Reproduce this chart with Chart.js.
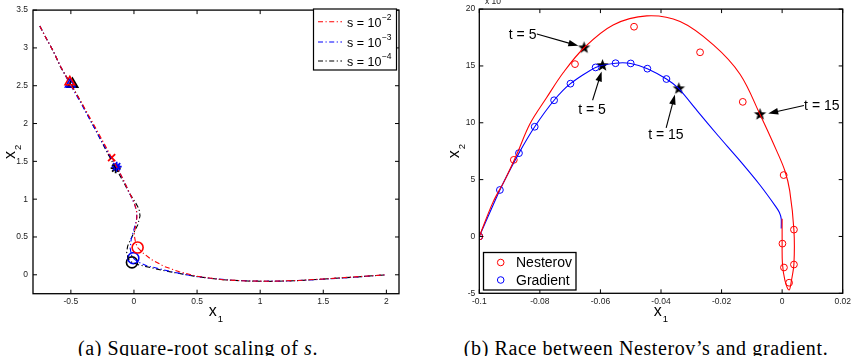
<!DOCTYPE html>
<html>
<head>
<meta charset="utf-8">
<script src="https://cdn.jsdelivr.net/npm/chart.js@4.4.0/dist/chart.umd.min.js"></script>
<style>
  body { margin: 0; background: #fff; width: 858px; height: 356px; position: relative; overflow: hidden; }
  canvas { position: absolute; top: 0; }
  #c1 { left: 0; }
  #c2 { left: 429px; }
  .cap { position: absolute; top: 338px; line-height: 20px; font-family: "Liberation Serif", serif; font-size: 20px;
         letter-spacing: 0.6px; color: #000; white-space: nowrap; transform: translateX(-50%); }
</style>
</head>
<body>
<canvas id="c1" width="429" height="330"></canvas>
<canvas id="c2" width="429" height="330"></canvas>
<div class="cap" style="left:198px">(a) Square-root scaling of <i>s</i>.</div>
<div class="cap" style="left:646px">(b) Race between Nesterov’s and gradient.</div>
<script>
// ---------- (a) square-root scaling of s ----------
const xTicksA = [-0.5, 0, 0.5, 1, 1.5, 2];
const yTicksA = [0, 0.5, 1, 1.5, 2, 2.5, 3, 3.5];
const sExponents = ['−2', '−3', '−4'];

const pathS2 = [[-0.746, 3.29], [-0.69, 3.11], [-0.64, 2.96], [-0.58, 2.75], [-0.51, 2.54], [-0.42, 2.29],
  [-0.3, 1.93], [-0.177, 1.55], [-0.1, 1.31], [-0.04, 1.1], [0.0, 0.96], [0.02, 0.86], [0.024, 0.76],
  [0.012, 0.64], [0.002, 0.53], [0.012, 0.43], [0.029, 0.36], [0.07, 0.29], [0.14, 0.2], [0.24, 0.11],
  [0.36, 0.04], [0.5, -0.02], [0.7, -0.065], [0.9, -0.082], [1.1, -0.085], [1.3, -0.075], [1.5, -0.055],
  [1.75, -0.028], [2.0, 0.0]];
const pathS3 = [[-0.746, 3.29], [-0.69, 3.11], [-0.64, 2.96], [-0.58, 2.75], [-0.51, 2.53], [-0.42, 2.27],
  [-0.3, 1.9], [-0.2, 1.6], [-0.137, 1.43], [-0.08, 1.24], [-0.03, 1.06], [0.005, 0.93], [0.022, 0.83],
  [0.02, 0.72], [0.0, 0.6], [-0.022, 0.47], [-0.03, 0.35], [-0.02, 0.26], [-0.005, 0.22], [0.03, 0.17],
  [0.1, 0.12], [0.2, 0.08], [0.3, 0.04], [0.45, -0.01], [0.6, -0.045], [0.8, -0.075], [1.0, -0.085],
  [1.2, -0.083], [1.4, -0.068], [1.6, -0.048], [1.8, -0.025], [2.0, 0.0]];
const pathS4 = [[-0.746, 3.29], [-0.69, 3.11], [-0.64, 2.96], [-0.58, 2.74], [-0.49, 2.5], [-0.4, 2.22],
  [-0.3, 1.9], [-0.2, 1.58], [-0.145, 1.41], [-0.09, 1.25], [-0.04, 1.09], [0.01, 0.96], [0.04, 0.87],
  [0.048, 0.78], [0.03, 0.66], [0.0, 0.56], [-0.025, 0.47], [-0.05, 0.38], [-0.058, 0.3], [-0.045, 0.21],
  [-0.016, 0.164], [0.04, 0.13], [0.12, 0.1], [0.22, 0.06], [0.35, 0.02], [0.5, -0.025], [0.7, -0.065],
  [0.9, -0.083], [1.1, -0.087], [1.3, -0.077], [1.5, -0.057], [1.75, -0.03], [2.0, 0.0]];
// markers: triangle, cross/star, circle
const marksS2 = [[-0.508, 2.55], [-0.177, 1.55], [0.029, 0.36]];
const marksS3 = [[-0.505, 2.52], [-0.137, 1.43], [-0.005, 0.22]];
const marksS4 = [[-0.487, 2.52], [-0.145, 1.41], [-0.016, 0.164]];

// ---------- (b) race between Nesterov and gradient ----------
const xTicksB = [-0.1, -0.08, -0.06, -0.04, -0.02, 0, 0.02];
const yTicksB = [-5, 0, 5, 10, 15, 20];
const seriesB = ['Nesterov', 'Gradient'];

const nesterovPath = [[-0.1, 0], [-0.0955, 3.0], [-0.0915, 5.0], [-0.0875, 7.3], [-0.0833, 9.9], [-0.0778, 12.2],
  [-0.0723, 14.4], [-0.0654, 16.6], [-0.0558, 18.6], [-0.0447, 19.4], [-0.0337, 18.9], [-0.0227, 16.85],
  [-0.0139, 14.27], [-0.0073, 10.73], [-0.0018, 7.53], [0.0009, 5.78], [0.0025, 4.03], [0.0039, 0.53],
  [0.0039, -2.38], [0.0031, -3.84], [0.0023, -4.71], [0.0009, -3.84], [0.0001, -2.38], [0.0, -0.34], [0.0, 1.55]];
const gradientPath = [[-0.1, 0], [-0.0932, 4.09], [-0.0869, 7.33], [-0.0817, 9.65], [-0.0753, 11.98],
  [-0.0699, 13.44], [-0.0616, 14.87], [-0.055, 15.24], [-0.05, 15.22], [-0.0445, 14.76], [-0.0382, 13.85],
  [-0.0341, 13.0], [-0.0281, 11.07], [-0.0212, 8.88], [-0.0139, 6.65], [-0.0074, 4.55], [-0.0021, 2.63],
  [-0.0009, 2.11], [-0.0003, 1.55], [-0.0003, 0.71]];
const nesterovIter = [[-0.1, 0], [-0.0886, 6.74], [-0.0684, 15.16], [-0.0489, 18.45], [-0.0271, 16.2],
  [-0.013, 11.84], [0.0005, 5.4], [0.0039, 0.6], [0.0001, -0.63], [0.0006, -2.73], [0.0039, -2.47], [0.0023, -4.07]];
const gradientIter = [[-0.1, 0], [-0.0932, 4.09], [-0.0869, 7.33], [-0.0817, 9.65], [-0.0753, 11.98],
  [-0.0699, 13.44], [-0.0616, 14.87], [-0.055, 15.24], [-0.05, 15.22], [-0.0445, 14.76], [-0.0382, 13.85]];
const starPoints = [[-0.0654, 16.6], [-0.0593, 15.04], [-0.0341, 13.0], [-0.0073, 10.73]];

const noteText = ['t = 5', 't = 5', 't = 15', 't = 15'];
const noteAt = [[-0.0857, 17.7], [-0.0628, 11.1], [-0.0384, 8.95], [0.0131, 11.46]];
const arrowFrom = [[-0.081, 17.81], [-0.0626, 11.98], [-0.0383, 9.56], [0.0072, 11.52]];
const arrowTo = [[-0.0673, 16.77], [-0.0596, 14.52], [-0.0354, 12.48], [-0.0046, 10.82]];

const RED = '#ff0000', BLUE = '#0000ff', BLACK = '#000000';
const SANS = '"Liberation Sans", Arial, sans-serif';
const pts = a => a.map(p => ({ x: p[0], y: p[1] }));

function dashLine(path, color) {
  return { data: pts(path), showLine: true, borderColor: color, borderWidth: 1.1,
           borderDash: [5, 2.5, 1.2, 2.5], pointRadius: 0, fill: false };
}
function markerSet(path, color, mid) {
  return { data: pts(path), showLine: false, pointStyle: ['triangle', mid, 'circle'],
           pointRadius: [5.5, 5, 5.5], pointBorderWidth: color === BLACK ? [2.2, 1.8, 1.6] : [1.6, 1.8, 1.6],
           pointBorderColor: color, pointBackgroundColor: 'rgba(0,0,0,0)' };
}
function makeStar(r) {
  const c = document.createElement('canvas');
  const size = Math.ceil(r * 2 + 2);
  c.width = c.height = size;
  const g = c.getContext('2d');
  g.translate(size / 2, size / 2);
  g.beginPath();
  for (let i = 0; i < 10; i++) {
    const rr = i % 2 ? r * 0.42 : r;
    const a = -Math.PI / 2 + i * Math.PI / 5;
    g.lineTo(rr * Math.cos(a), rr * Math.sin(a));
  }
  g.closePath();
  g.fillStyle = '#000';
  g.fill();
  return c;
}

function axis(min, max, tickVals, fit, pad) {
  return {
    type: 'linear', min: min, max: max,
    grid: { display: false, drawTicks: false }, border: { display: false },
    ticks: { font: { family: SANS, size: 8.5 }, color: '#222', padding: pad, autoSkip: false, maxRotation: 0,
             callback: v => String(v) },
    afterBuildTicks: s => { s.ticks = tickVals.map(v => ({ value: v })); },
    afterFit: fit
  };
}

// box + inward ticks on all four sides, MATLAB style
const frame = {
  id: 'frame',
  afterDraw(chart) {
    const { ctx, chartArea: a, scales: { x, y } } = chart;
    ctx.save();
    ctx.strokeStyle = '#000';
    ctx.lineWidth = 1.3;
    ctx.strokeRect(a.left, a.top, a.right - a.left, a.bottom - a.top);
    ctx.lineWidth = 1;
    ctx.beginPath();
    x.ticks.forEach(t => {
      const p = x.getPixelForValue(t.value);
      ctx.moveTo(p, a.bottom); ctx.lineTo(p, a.bottom - 4);
      ctx.moveTo(p, a.top); ctx.lineTo(p, a.top + 4);
    });
    y.ticks.forEach(t => {
      const p = y.getPixelForValue(t.value);
      ctx.moveTo(a.left, p); ctx.lineTo(a.left + 4, p);
      ctx.moveTo(a.right, p); ctx.lineTo(a.right - 4, p);
    });
    ctx.stroke();
    ctx.restore();
  }
};

function subLabel(ctx, cx, cy, sub, rotate) {
  ctx.save();
  ctx.translate(cx, cy);
  if (rotate) ctx.rotate(-Math.PI / 2);
  ctx.fillStyle = '#000';
  ctx.textAlign = 'left';
  ctx.textBaseline = 'alphabetic';
  ctx.font = '16px ' + SANS;
  const w1 = ctx.measureText('x').width;
  ctx.font = '9.5px ' + SANS;
  const w2 = ctx.measureText(sub).width;
  const x0 = -(w1 + w2 + 1) / 2;
  ctx.font = '16px ' + SANS;
  ctx.fillText('x', x0, 4);
  ctx.font = '9.5px ' + SANS;
  ctx.fillText(sub, x0 + w1 + 1, 10);
  ctx.restore();
}

function arrow(ctx, x0, y0, x1, y1) {
  const ang = Math.atan2(y1 - y0, x1 - x0), L = 10, W = 3.3;
  const c = Math.cos(ang), s = Math.sin(ang);
  ctx.beginPath();
  ctx.moveTo(x0, y0);
  ctx.lineTo(x1 - L * 0.8 * c, y1 - L * 0.8 * s);
  ctx.stroke();
  ctx.beginPath();
  ctx.moveTo(x1, y1);
  ctx.lineTo(x1 - L * c + W * s, y1 - L * s - W * c);
  ctx.lineTo(x1 - L * c - W * s, y1 - L * s + W * c);
  ctx.closePath();
  ctx.fill();
}

const decorA = {
  id: 'decorA',
  afterDraw(chart) {
    const ctx = chart.ctx, a = chart.chartArea;
    subLabel(ctx, (a.left + a.right) / 2, 312, '1', false);
    subLabel(ctx, 11, (a.top + a.bottom) / 2, '2', true);
    // legend
    const bx = 313.5, by = 9, bw = 83, bh = 61;
    ctx.save();
    ctx.fillStyle = '#fff';
    ctx.fillRect(bx, by, bw, bh);
    ctx.strokeStyle = '#000';
    ctx.lineWidth = 1.2;
    ctx.strokeRect(bx, by, bw, bh);
    const colors = [RED, BLUE, BLACK];
    const rows = [20.7, 41, 60];
    rows.forEach((ry, i) => {
      ctx.strokeStyle = colors[i];
      ctx.lineWidth = 1.1;
      ctx.setLineDash([5, 2.5, 1.2, 2.5]);
      ctx.beginPath();
      ctx.moveTo(318, ry + 1); ctx.lineTo(342, ry + 1);
      ctx.stroke();
      ctx.setLineDash([]);
      ctx.fillStyle = '#000';
      ctx.textAlign = 'left';
      ctx.textBaseline = 'alphabetic';
      ctx.font = '12.5px ' + SANS;
      ctx.fillText('s = 10', 347, ry + 6);
      const w = ctx.measureText('s = 10').width;
      ctx.font = '8.5px ' + SANS;
      ctx.fillText(sExponents[i], 347 + w + 0.5, ry - 1);
    });
    ctx.restore();
  }
};

new Chart(document.getElementById('c1'), {
  type: 'scatter',
  data: {
    datasets: [
      dashLine(pathS2, RED), dashLine(pathS3, BLUE), dashLine(pathS4, BLACK),
      markerSet(marksS2, RED, 'crossRot'), markerSet(marksS3, BLUE, 'star'), markerSet(marksS4, BLACK, 'star')
    ]
  },
  options: {
    responsive: false, animation: false, devicePixelRatio: 1,
    layout: { padding: { top: 5, right: 30, left: 0, bottom: 0 } },
    plugins: { legend: { display: false }, tooltip: { enabled: false } },
    scales: {
      x: axis(-0.8, 2.1, xTicksA, s => { s.height = 36.3; }, 3),
      y: axis(-0.25, 3.5, yTicksA, s => { s.width = 33; }, 5)
    }
  },
  plugins: [frame, decorA]
});

const decorB = {
  id: 'decorB',
  afterDatasetsDraw(chart) {
    const { ctx, scales: { x, y } } = chart;
    ctx.save();
    ctx.strokeStyle = '#000';
    ctx.fillStyle = '#000';
    ctx.lineWidth = 1.1;
    arrowFrom.forEach((f, i) => {
      arrow(ctx, x.getPixelForValue(f[0]), y.getPixelForValue(f[1]),
            x.getPixelForValue(arrowTo[i][0]), y.getPixelForValue(arrowTo[i][1]));
    });
    ctx.font = '14px ' + SANS;
    ctx.textAlign = 'center';
    ctx.textBaseline = 'middle';
    noteText.forEach((t, i) => {
      ctx.fillText(t, x.getPixelForValue(noteAt[i][0]), y.getPixelForValue(noteAt[i][1]));
    });
    ctx.restore();
  },
  afterDraw(chart) {
    const ctx = chart.ctx, a = chart.chartArea;
    subLabel(ctx, (a.left + a.right) / 2, 312, '1', false);
    subLabel(ctx, 26, (a.top + a.bottom) / 2, '2', true);
    ctx.save();
    ctx.fillStyle = '#222';
    ctx.font = '8.5px ' + SANS;
    ctx.textAlign = 'left';
    ctx.textBaseline = 'middle';
    ctx.fillText('x 10', 56, 1.5);
    // legend
    const bx = 54.5, by = 252.5, bw = 92.5, bh = 37.5;
    ctx.fillStyle = '#fff';
    ctx.fillRect(bx, by, bw, bh);
    ctx.strokeStyle = '#000';
    ctx.lineWidth = 1.3;
    ctx.strokeRect(bx, by, bw, bh);
    const colors = [RED, BLUE];
    const rows = [262.5, 280];
    rows.forEach((ry, i) => {
      ctx.strokeStyle = colors[i];
      ctx.lineWidth = 1;
      ctx.beginPath();
      ctx.arc(71.7, ry, 3.3, 0, Math.PI * 2);
      ctx.stroke();
      ctx.fillStyle = '#000';
      ctx.font = '14px ' + SANS;
      ctx.fillText(seriesB[i], 87, ry + 1);
    });
    ctx.restore();
  }
};

new Chart(document.getElementById('c2'), {
  type: 'scatter',
  data: {
    datasets: [
      { label: seriesB[0], data: pts(nesterovPath), showLine: true, borderColor: RED, borderWidth: 1.1,
        tension: 0.35, pointRadius: 0 },
      { label: seriesB[1], data: pts(gradientPath), showLine: true, borderColor: BLUE, borderWidth: 1.1,
        tension: 0.2, pointRadius: 0 },
      { data: pts(nesterovIter), showLine: false, pointStyle: 'circle', pointRadius: 3.4, pointBorderWidth: 1,
        pointBorderColor: RED, pointBackgroundColor: 'rgba(0,0,0,0)' },
      { data: pts(gradientIter), showLine: false, pointStyle: 'circle', pointRadius: 3.4, pointBorderWidth: 1,
        pointBorderColor: BLUE, pointBackgroundColor: 'rgba(0,0,0,0)' },
      { data: pts(starPoints), showLine: false, pointStyle: makeStar(6.5), pointRadius: 6 }
    ]
  },
  options: {
    responsive: false, animation: false, devicePixelRatio: 1,
    layout: { padding: { top: 7.3, right: 15.3, left: 0, bottom: 0 } },
    plugins: { legend: { display: false }, tooltip: { enabled: false } },
    scales: {
      x: axis(-0.1, 0.02, xTicksB, s => { s.height = 36.7; }, 3),
      y: axis(-5, 20, yTicksB, s => { s.width = 50.3; }, 4)
    }
  },
  plugins: [frame, decorB]
});
</script>
</body>
</html>
